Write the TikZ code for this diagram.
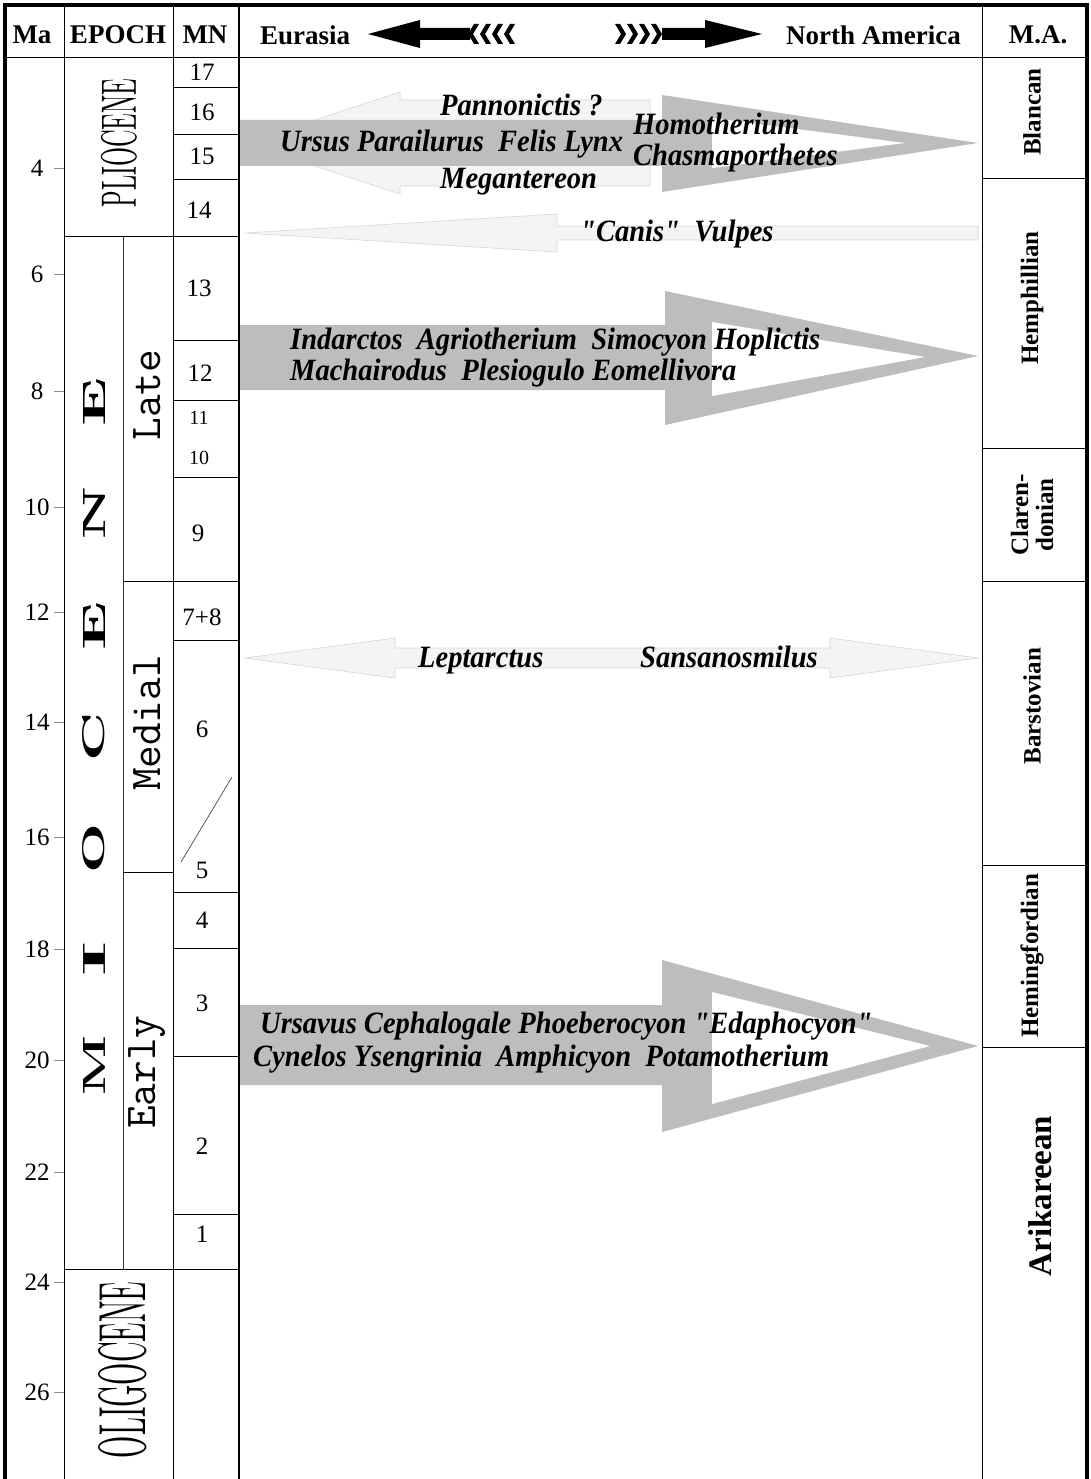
\documentclass[tikz,border=0pt]{standalone}
\usepackage{fontspec}
\setmainfont{Latin Modern Roman}
\newfontfamily\tnr{Liberation Serif}
\usepackage{graphicx}
\newcommand\condtx[1]{\scalebox{0.92}[1]{#1}}
\definecolor{arrgray}{gray}{0.74}
\definecolor{faintgray}{gray}{0.955}
\definecolor{faintedge}{gray}{0.84}
\begin{document}
\begin{tikzpicture}[x=1pt,y=-1pt,
  gridline/.style={line width=0.9pt,black},
  thinline/.style={line width=0.6pt,black!80},
  tickline/.style={line width=0.5pt,black!45},
  hdr/.style={font=\tnr\bfseries\fontsize{27}{27}\selectfont,inner sep=0pt},
  num/.style={font=\tnr\fontsize{25}{25}\selectfont,inner sep=0pt},
  smallnum/.style={font=\tnr\fontsize{20}{20}\selectfont,inner sep=0pt},
  sp/.style={font=\tnr\bfseries\itshape\fontsize{31}{31}\selectfont,inner sep=0pt,anchor=base west},
  malab/.style={font=\tnr\bfseries\fontsize{25}{25}\selectfont,rotate=90,inner sep=0pt,align=center},
  subep/.style={font=\ttfamily\fontsize{44}{44}\selectfont,rotate=90,inner sep=0pt},
  epl/.style={rotate=90,inner sep=0pt},
  bigarr/.style={fill=arrgray,draw=none},
  faintarr/.style={fill=faintgray,draw=faintedge,line width=0.6pt},
  hollow/.style={fill=white,draw=none}
]
\useasboundingbox (0,0) rectangle (1090,1479);
\fill[white] (0,0) rectangle (1090,1479);

% ---------- faint arrows ----------
\path[faintarr] (245,143) -- (400,92) -- (400,100) -- (650,100) -- (650,186) -- (400,186) -- (400,194) -- cycle;
\path[faintarr] (245,233) -- (557,214) -- (557,226) -- (978,226) -- (978,240) -- (557,240) -- (557,252) -- cycle;
\path[faintarr] (245,658) -- (395,638) -- (395,648) -- (830,648) -- (830,638) -- (978,658) -- (830,678) -- (830,668) -- (395,668) -- (395,678) -- cycle;

% ---------- big eastward arrows ----------
\path[bigarr] (239,120) -- (662,120) -- (662,95) -- (978,143) -- (662,192) -- (662,166) -- (239,166) -- cycle;
\path[hollow] (712,118) -- (905,143) -- (712,168) -- cycle;

\path[bigarr] (239,325) -- (665,325) -- (665,291) -- (978,356) -- (665,425) -- (665,390) -- (239,390) -- cycle;
\path[hollow] (712,322) -- (925,357) -- (712,396) -- cycle;

\path[bigarr] (239,1005) -- (662,1005) -- (662,960) -- (978,1046) -- (662,1132) -- (662,1085) -- (239,1085) -- cycle;
\path[hollow] (712,992) -- (930,1046) -- (712,1104) -- cycle;

% ---------- frame and grid ----------
\draw[line width=4pt] (5,1479) -- (5,5) -- (1087,5) -- (1087,1479);
\draw[gridline] (5,57) -- (1087,57);
\draw[gridline] (64,5) -- (64,1479);
\draw[gridline] (173,5) -- (173,1479);
\draw[line width=1.3pt] (239,5) -- (239,1479);
\draw[gridline] (982,5) -- (982,1479);
\draw[thinline] (123,236) -- (123,1269);
\draw[gridline] (64,236) -- (239,236);
\draw[gridline] (64,1269) -- (239,1269);
\draw[gridline] (123,581) -- (239,581);
\draw[gridline] (123,872) -- (173,872);
\foreach \yy in {87,134,179,340,400,477,640,892,948,1056,1214}
  \draw[gridline] (173,\yy) -- (239,\yy);
\foreach \yy in {178,448,581,865,1047}
  \draw[gridline] (982,\yy) -- (1087,\yy);
\draw[thinline] (181,862) -- (232,777);

% ---------- header ----------
\node[hdr] (hMa) at (32,35) {Ma};
\node[hdr] (hEpoch) at (118,35) {EPOCH};
\node[hdr] (hMN) at (205,35) {MN};
\node[hdr,anchor=west] (hEur) at (260,35) {Eurasia};
\node[hdr,anchor=east] (hNA) at (961,35) {North America};
\node[hdr] (hMA) at (1038,35) {M.A.};
\fill (368,34) -- (420,20) -- (420,28) -- (470,28) -- (470,40) -- (420,40) -- (420,48) -- cycle;
\foreach \i in {0,1,2,3} {
  \pgfmathsetmacro{\xo}{468+\i*12}
  \fill (\xo,34) -- (\xo+6,24) -- (\xo+11,24) -- (\xo+5,34) -- (\xo+11,44) -- (\xo+6,44) -- cycle;
}
\foreach \i in {0,1,2,3} {
  \pgfmathsetmacro{\xo}{615+\i*12}
  \fill (\xo,24) -- (\xo+5,24) -- (\xo+11,34) -- (\xo+5,44) -- (\xo,44) -- (\xo+6,34) -- cycle;
}
\fill (662,28) -- (705,28) -- (705,20) -- (762,34) -- (705,48) -- (705,40) -- (662,40) -- cycle;

% ---------- Ma scale ----------
\foreach \v/\yy in {4/168,6/274,8/391,10/507,12/612,14/722,16/837,18/949,20/1060,22/1172,24/1282,26/1392} {
  \node[num] (ma\v) at (37,\yy) {\v};
  \draw[tickline] (54,\yy) -- (64,\yy);
}

% ---------- epochs ----------
\node[epl] (plio) at (119,143) {\resizebox{129pt}{35pt}{PLIOCENE}};
\node[epl] (oligo) at (123,1370) {\resizebox{176pt}{47pt}{OLIGOCENE}};
\node[epl] (mioM) at (94,1065) {\resizebox{60pt}{22pt}{\bfseries M}};
\node[epl] (mioI) at (94,959) {\resizebox{35pt}{22pt}{\bfseries I}};
\node[epl] (mioO) at (94,848) {\resizebox{50pt}{22pt}{\bfseries O}};
\node[epl] (mioC) at (94,737) {\resizebox{49pt}{22pt}{\bfseries C}};
\node[epl] (mioE) at (94,626) {\resizebox{49pt}{22pt}{\bfseries E}};
\node[epl] (mioN) at (94,513) {\resizebox{53pt}{22pt}{\bfseries N}};
\node[epl] (mioEE) at (94,402) {\resizebox{49pt}{22pt}{\bfseries E}};
\node[subep] (late) at (147,395) {Late};
\node[subep] (medial) at (147,723) {Medial};
\node[subep] (early) at (147,1072) {Early};

% ---------- MN zones ----------
\node[num] (mn17) at (202,72) {17};
\node[num] (mn16) at (202,112) {16};
\node[num] (mn15) at (202,156) {15};
\node[num] (mn14) at (199,210) {14};
\node[num] (mn13) at (199,288) {13};
\node[num] (mn12) at (200,373) {12};
\node[smallnum] (mn11) at (199,418) {11};
\node[smallnum] (mn10) at (199,458) {10};
\node[num] (mn9) at (198,533) {9};
\node[num] (mn78) at (202,617) {7+8};
\node[num] (mn6) at (202,729) {6};
\node[num] (mn5) at (202,870) {5};
\node[num] (mn4) at (202,920) {4};
\node[num] (mn3) at (202,1003) {3};
\node[num] (mn2) at (202,1146) {2};
\node[num] (mn1) at (202,1234) {1};

% ---------- N.A. mammal ages ----------
\node[malab] (blancan) at (1032,112) {Blancan};
\node[malab] (hemph) at (1032,298) {Hemphillian};
\node[malab] (claren) at (1032,515) {Claren-\\donian};
\node[malab] (barst) at (1032,706) {Barstovian};
\node[malab] (heming) at (1032,956) {Hemingfordian};
\node[malab,font=\tnr\bfseries\fontsize{33}{33}\selectfont] (arik) at (1040,1196) {Arikareean};

% ---------- taxa ----------
\node[sp] (t1) at (440,116) {\condtx{Pannonictis ?}};
\node[sp] (t2) at (280,152) {\condtx{Ursus Parailurus\ \ Felis Lynx}};
\node[sp] (t3) at (633,135) {\condtx{Homotherium}};
\node[sp] (t4) at (633,166) {\condtx{Chasmaporthetes}};
\node[sp] (t5) at (440,189) {\condtx{Megantereon}};
\node[sp] (t6) at (580,242) {\condtx{"Canis"\ \ Vulpes}};
\node[sp] (t7) at (290,349) {\condtx{Indarctos\ \ Agriotherium\ \ Simocyon Hoplictis}};
\node[sp] (t8) at (290,380) {\condtx{Machairodus\ \ Plesiogulo Eomellivora}};
\node[sp] (t9) at (418,667) {\condtx{Leptarctus}};
\node[sp] (t10) at (640,667) {\condtx{Sansanosmilus}};
\node[sp] (t11) at (260,1033) {\condtx{Ursavus Cephalogale Phoeberocyon "Edaphocyon"}};
\node[sp] (t12) at (253,1066) {\condtx{Cynelos Ysengrinia\ \ Amphicyon\ \ Potamotherium}};
\end{tikzpicture}
\end{document}
